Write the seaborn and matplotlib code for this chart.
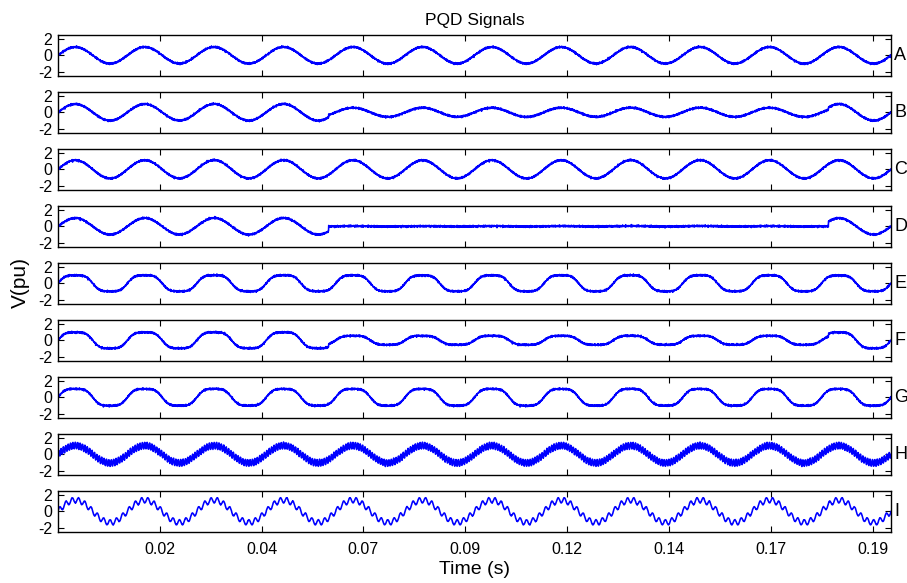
import numpy as np
import pandas as pd
import matplotlib
matplotlib.use("Agg")
import matplotlib.pyplot as plt
import seaborn as sns

# signal names, top to bottom
labels = ['A', 'B', 'C', 'D', 'E', 'F', 'G', 'H', 'I']

# fundamental amplitude (pu) outside and inside the event window
amp_normal = [1.0, 1.0, 1.1, 1.0, 1.1, 1.1, 1.15, 1.05, 1.35]
amp_event = [1.0, 0.55, 1.1, 0.03, 1.1, 0.62, 1.15, 1.05, 1.35]

# 3rd and 5th harmonic content (relative to fundamental)
h3 = [0, 0, 0, 0, 0.13, 0.13, 0.13, 0, 0]
h5 = [0, 0, 0, 0, 0.01, 0.01, 0.01, 0, 0]

# fast ripple riding on the wave: harmonic order and amplitude (pu)
ripple_order = [0, 0, 0, 0, 0, 0, 0, 29, 11]
ripple_amp = [0, 0, 0, 0, 0, 0, 0, 0.4, 0.33]

# measurement fuzz on each trace (pu)
fuzz_amp = [0.2, 0.2, 0.2, 0.2, 0.2, 0.2, 0.2, 0.08, 0.05]
fuzz_freqs = [2310, 3770, 4390, 5130, 6690, 7340, 8210, 9470]
fuzz_phases = [0.3, 1.7, 2.2, 2.9, 4.1, 4.8, 5.3, 0.9]

# disturbance window (s)
event_start = 0.065
event_end = 0.185

f0 = 60
t_end = 0.2
n_samples = 4000

xtick_pos = [0.0244, 0.0489, 0.0733, 0.0978, 0.1222, 0.1467, 0.1711, 0.1956]
xtick_labels = ['0.02', '0.04', '0.07', '0.09', '0.12', '0.14', '0.17', '0.19']

t = np.linspace(0, t_end, n_samples + 1)
w = 2 * np.pi * f0 * t
in_event = (t >= event_start) & (t < event_end)

fuzz = np.zeros_like(t)
for f, p in zip(fuzz_freqs, fuzz_phases):
    fuzz += np.sin(2 * np.pi * f * t + p)
fuzz /= np.abs(fuzz).max()

signals = {}
for i, name in enumerate(labels):
    amp = np.where(in_event, amp_event[i], amp_normal[i])
    wave = np.sin(w) + h3[i] * np.sin(3 * w) + h5[i] * np.sin(5 * w)
    v = amp * wave
    if ripple_order[i]:
        v = v + ripple_amp[i] * np.sin(ripple_order[i] * w)
    v = v + fuzz_amp[i] * np.roll(fuzz, 37 * i)
    signals[name] = v

df = pd.DataFrame(signals)
df['t'] = t

sns.set_style("ticks")
plt.rcParams['font.family'] = ['Liberation Sans', 'DejaVu Sans']
plt.rcParams['text.color'] = 'black'
plt.rcParams['xtick.direction'] = 'in'
plt.rcParams['ytick.direction'] = 'in'

W, H = 907, 583
fig = plt.figure(figsize=(W / 100, H / 100), dpi=100)

left, width = 58 / W, 833 / W
ax_h = 41 / H
axes = []
for i, name in enumerate(labels):
    top = 35 + 57 * i
    ax = fig.add_axes([left, 1 - (top + 41) / H, width, ax_h])
    sns.lineplot(data=df, x='t', y=name, ax=ax, color='#0000ff',
                 linewidth=1.15, estimator=None)
    ax.set_xlim(0, t_end)
    ax.set_ylim(-2.5, 2.45)
    ax.set_yticks([-2, 0, 2])
    ax.set_yticklabels(['-2', '0', '2'])
    ax.set_xticks(xtick_pos)
    if i == len(labels) - 1:
        ax.set_xticklabels(xtick_labels)
    else:
        ax.set_xticklabels([])
    ax.tick_params(axis='both', which='both', top=True, right=True,
                   length=4, width=0.8, labelsize=11.5, colors='black')
    ax.tick_params(axis='y', pad=4)
    ax.tick_params(axis='x', pad=7)
    ax.set_xlabel('')
    ax.set_ylabel('')
    for s in ax.spines.values():
        s.set_linewidth(1.0)
        s.set_color('black')
    ax.text(1.004, 0.5, name, transform=ax.transAxes, ha='left',
            va='center', fontsize=13, color='black')
    axes.append(ax)

axes[0].set_title('PQD Signals', fontsize=12.5, pad=7, color='black')
fig.text(0.523, 1 - 569 / H, 'Time (s)', ha='center', va='center', fontsize=14)
fig.text(20 / W, 1 - 283 / H, 'V(pu)', ha='center', va='center',
         rotation=90, fontsize=15)

fig.savefig('out.png', dpi=100)
